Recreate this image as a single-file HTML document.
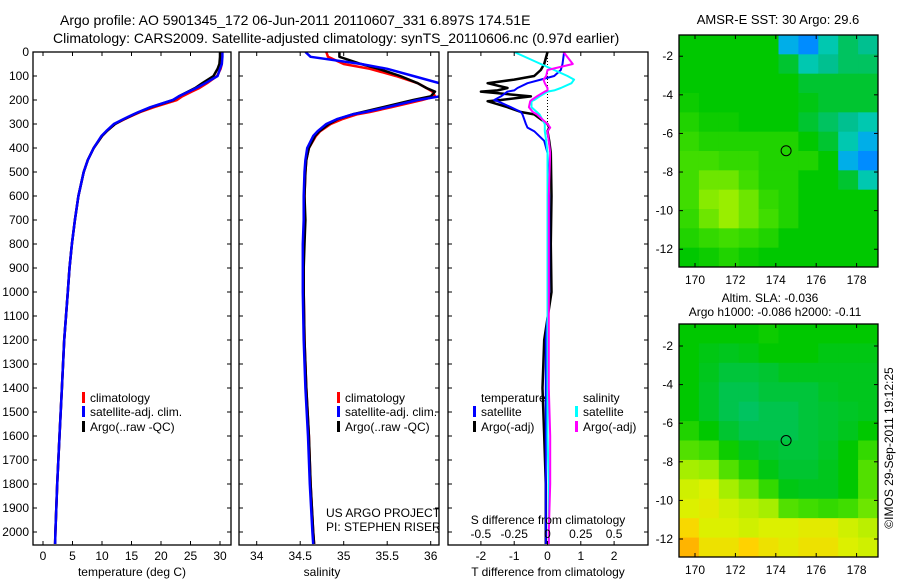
<!DOCTYPE html>
<html><head><meta charset="utf-8"><style>
html,body{margin:0;padding:0;background:#fff}
svg{display:block;font-family:"Liberation Sans",sans-serif;font-size:12px}
</style></head><body>
<svg id="fig" width="900" height="580" viewBox="0 0 900 580">
<defs>
<clipPath id="c1"><rect x="33" y="52" width="198" height="493"/></clipPath>
<clipPath id="c2"><rect x="239" y="52" width="200" height="493"/></clipPath>
<clipPath id="c3"><rect x="448" y="52" width="200" height="493"/></clipPath>
</defs>
<text x="60" y="25" font-size="14">Argo profile: AO 5901345_172 06-Jun-2011 20110607_331 6.897S 174.51E</text>
<text x="53" y="43" font-size="14">Climatology: CARS2009. Satellite-adjusted climatology: synTS_20110606.nc (0.97d earlier)</text>
<g id="g1"></g>
<g id="g2"></g>
<g id="g3"></g>
<g id="m1"></g>
<g id="m2"></g>
<text x="778" y="24" font-size="13" text-anchor="middle">AMSR-E SST: 30  Argo: 29.6</text>
<text x="770" y="302" text-anchor="middle">Altim. SLA: -0.036</text>
<text x="775" y="316" text-anchor="middle">Argo h1000: -0.086 h2000: -0.11</text>
<text transform="translate(893,448) rotate(-90)" text-anchor="middle">©IMOS 29-Sep-2011 19:12:25</text>
</svg>
<script>
// ---------- data ----------
const depths = [0,20,50,70,100,130,150,165,185,200,230,250,260,280,300,330,350,400,450,500,600,700,800,900,1000,1200,1400,1600,1800,2000,2050];
const tempClim = [30.3,30.3,30.3,30.1,29.5,27.8,26.5,25.2,23.6,22.7,18.8,16.5,15.6,13.8,12.2,10.8,10.0,8.6,7.6,6.9,6.0,5.4,4.9,4.5,4.2,3.6,3.2,2.8,2.4,2.1,2.05];
const tempSat  = [30.4,30.4,30.3,30.0,29.6,27.5,26.0,24.7,23.0,22.0,18.2,16.2,15.3,13.6,12.0,10.7,9.9,8.6,7.6,6.9,6.0,5.4,4.9,4.5,4.2,3.6,3.2,2.8,2.4,2.1,2.05];
const tempArgo = [30.0,30.0,29.9,29.6,28.9,27.0,25.8,24.6,23.0,22.1,18.3,16.3,15.4,13.7,12.2,10.8,10.0,8.6,7.6,6.9,6.0,5.4,4.9,4.5,4.2,3.6,3.2,2.8,2.4,2.1,2.05];
const salClim = [34.80,34.82,35.0,35.3,35.6,35.85,35.95,36.02,36.05,35.9,35.55,35.3,35.15,34.98,34.85,34.73,34.68,34.6,34.57,34.56,34.55,34.55,34.54,34.54,34.54,34.55,34.57,34.6,34.62,34.65,34.66];
const salSat  = [34.56,34.62,35.2,35.5,35.8,36.1,36.2,36.2,36.1,35.85,35.5,35.25,35.1,34.92,34.8,34.7,34.65,34.58,34.56,34.55,34.54,34.54,34.53,34.53,34.53,34.54,34.56,34.59,34.61,34.64,34.65];
const salArgo = [34.95,34.95,35.2,35.4,35.65,35.85,35.95,36.05,36.0,35.8,35.45,35.22,35.1,34.93,34.83,34.72,34.67,34.6,34.57,34.56,34.55,34.56,34.55,34.54,34.54,34.55,34.57,34.6,34.62,34.65,34.66];
const diffDepths = [0,50,75,100,115,130,150,160,165,185,200,205,230,250,260,280,300,315,330,370,420,600,800,1000,1200,1400,1600,1800,2000,2050];
const dTArgo = [0,-0.1,-0.2,-0.4,-1.0,-1.8,-1.2,-1.5,-2.0,-0.5,-1.4,-1.8,-1.2,-0.8,-0.4,-0.2,0,0.05,0,0.05,0.1,0.12,0.1,0.12,-0.1,-0.15,-0.1,-0.05,-0.05,-0.05];
const dTSat  = [0.5,0.45,0.4,0.2,-0.2,-0.6,-0.9,-1.0,-1.2,-1.4,-1.6,-1.5,-1.1,-0.8,-0.75,-0.7,-0.65,-0.6,-0.4,-0.1,0,0.05,0.05,0.05,-0.05,-0.05,-0.05,-0.05,-0.05,-0.05];
const dSSat  = [-0.25,-0.05,0.05,0.15,0.2,0.18,0.1,0.05,0.0,-0.06,-0.1,-0.12,-0.12,-0.08,-0.06,-0.04,-0.02,-0.02,-0.02,-0.01,0,0,0,0,0,0,0,0.01,0.01,0.01];
const dSArgo = [0.12,0.19,0,-0.01,-0.03,-0.02,0.0,0.0,-0.02,-0.08,-0.12,-0.13,-0.14,-0.11,-0.08,-0.04,0,0.02,0.0,0.01,0.02,0.01,0.01,0.01,0.01,0.01,0.02,0.02,0.01,0.01];
const depthTicks = [0,100,200,300,400,500,600,700,800,900,1000,1100,1200,1300,1400,1500,1600,1700,1800,1900,2000];
const tempTicks = [0,5,10,15,20,25,30];
const salTicks = ["34","34.5","35","35.5","36"];
const tdTicks = [-2,-1,0,1,2];
const sdTicks = ["-0.5","-0.25","0","0.25","0.5"];
const lonTicks = [170,172,174,176,178];
const latTicks = [-2,-4,-6,-8,-10,-12];
const sstGrid = [
[.5,.5,.5,.5,.5,.2,.15,.3,.4,.35],
[.5,.5,.5,.5,.5,.45,.3,.35,.4,.4],
[.5,.5,.5,.5,.5,.5,.45,.45,.45,.45],
[.52,.5,.5,.5,.5,.5,.48,.45,.45,.45],
[.55,.52,.52,.5,.5,.5,.45,.4,.35,.3],
[.58,.55,.55,.55,.55,.55,.5,.45,.3,.2],
[.6,.6,.58,.58,.55,.55,.55,.5,.2,.15],
[.6,.65,.65,.6,.55,.55,.5,.5,.45,.3],
[.6,.68,.7,.65,.58,.55,.5,.5,.5,.5],
[.58,.65,.7,.65,.6,.55,.5,.5,.5,.5],
[.55,.58,.6,.58,.55,.5,.5,.5,.5,.5],
[.5,.52,.55,.52,.5,.5,.5,.5,.5,.5]];
const slaGrid = [
[.5,.5,.5,.5,.52,.5,.5,.5,.5,.5],
[.5,.48,.47,.48,.5,.5,.5,.48,.48,.48],
[.5,.47,.44,.44,.45,.47,.47,.47,.47,.47],
[.5,.46,.42,.42,.44,.44,.44,.46,.47,.47],
[.5,.46,.42,.4,.42,.42,.44,.45,.46,.47],
[.55,.5,.45,.42,.42,.42,.44,.45,.47,.5],
[.62,.6,.52,.47,.45,.44,.44,.46,.5,.58],
[.72,.7,.62,.55,.48,.45,.45,.47,.5,.62],
[.78,.8,.72,.66,.58,.48,.47,.47,.5,.62],
[.8,.82,.78,.75,.72,.62,.6,.58,.6,.65],
[.88,.8,.8,.78,.8,.8,.82,.82,.78,.75],
[.95,.85,.85,.9,.85,.82,.85,.85,.8,.78]];
const argoLon = [174.51];
const argoLat = [-6.897];

// ---------- helpers ----------
const NS = "http://www.w3.org/2000/svg";
function mk(tag, attrs, parent){const e=document.createElementNS(NS,tag);for(const k in attrs)e.setAttribute(k,attrs[k]);parent.appendChild(e);return e;}
const yD = d => 52 + 0.24*d;
const xT = t => 43 + 5.9*t;
const xS = s => 256.7 + 87*(s-34);
const xD = t => 547.5 + 33.3*t;

function frame(g, x0, x1, y0, y1, name){
  const r = mk("rect",{x:x0,y:y0,width:x1-x0,height:y1-y0,fill:"none",stroke:"#000","stroke-width":1.3},g);
  
  
}
function yTicks(g, x0, x1, labels){
  depthTicks.forEach(d=>{
    const y=yD(d);
    mk("line",{x1:x0,x2:x0+4,y1:y,y2:y,stroke:"#000"},g);
    mk("line",{x1:x1-4,x2:x1,y1:y,y2:y,stroke:"#000"},g);
    if(labels){const t=mk("text",{x:x0-4,y:y+4,"text-anchor":"end"},g);t.textContent=d;
      
      }
  });
}
function xTicks(g, xs, labels, ybot, ytop){
  xs.forEach((x,i)=>{
    mk("line",{x1:x,x2:x,y1:ytop,y2:ytop+4,stroke:"#000"},g);
    mk("line",{x1:x,x2:x,y1:ybot-4,y2:ybot,stroke:"#000"},g);
    if(labels){const t=mk("text",{x:x,y:ybot+15,"text-anchor":"middle"},g);t.textContent=labels[i];
      
      }
  });
}
function line(g, vals, fx, ds, color, w, name, clip){
  const pts = vals.map((v,i)=>fx(v).toFixed(1)+","+yD(ds[i]).toFixed(1)).join(" ");
  const p = mk("polyline",{points:pts,fill:"none",stroke:color,"stroke-width":w,"clip-path":"url(#"+clip+")","stroke-linejoin":"round"},g);
  
  
}
function legendItem(g, x, y, color, label){
  if(color) mk("rect",{x:x,y:y-10,width:3,height:11,fill:color},g);
  const t=mk("text",{x:x+8,y:y},g); t.textContent=label;
  
  
}
function label(g,x,y,txt,name,anchor){
  const t=mk("text",{x:x,y:y,"text-anchor":anchor||"middle"},g);t.textContent=txt;
  
  
}

// ---------- panel 1 ----------
const g1=document.getElementById("g1");
line(g1,tempClim,xT,depths,"#f00",2.5,"temp-climatology-line","c1");
line(g1,tempArgo,xT,depths,"#000",2.5,"temp-argo-line","c1");
line(g1,tempSat,xT,depths,"#00f",2.5,"temp-satellite-line","c1");
frame(g1,33,231,52,545,"temp-axes");
yTicks(g1,33,231,true);
xTicks(g1,tempTicks.map(xT),tempTicks,545,52);
label(g1,132,576,"temperature (deg C)","temp-x-axis-title");
legendItem(g1,82,402,"#f00","climatology");
legendItem(g1,82,416,"#00f","satellite-adj. clim.");
legendItem(g1,82,431,"#000","Argo(..raw -QC)");

// ---------- panel 2 ----------
const g2=document.getElementById("g2");
line(g2,salClim,xS,depths,"#f00",2.5,"sal-climatology-line","c2");
line(g2,salArgo,xS,depths,"#000",2.5,"sal-argo-line","c2");
line(g2,salSat,xS,depths,"#00f",2.5,"sal-satellite-line","c2");
frame(g2,239,439,52,545,"sal-axes");
yTicks(g2,239,439,false);
xTicks(g2,salTicks.map(s=>xS(parseFloat(s))),salTicks,545,52);
label(g2,322,576,"salinity","sal-x-axis-title");
legendItem(g2,337,402,"#f00","climatology");
legendItem(g2,337,416,"#00f","satellite-adj. clim.");
legendItem(g2,337,431,"#000","Argo(..raw -QC)");
const gtxt=mk("g",{"clip-path":"url(#c2)"},g2);
label(gtxt,326,517,"US ARGO PROJECT","project-credit","start");
label(gtxt,326,531,"PI: STEPHEN RISER","pi-credit","start");

// ---------- panel 3 ----------
const g3=document.getElementById("g3");
mk("line",{x1:xD(0),x2:xD(0),y1:52,y2:125,stroke:"#000","stroke-dasharray":"1,2"},g3);
line(g3,dTArgo,xD,diffDepths,"#000",2.5,"tdiff-argo-line","c3");
line(g3,dTSat,xD,diffDepths,"#00f",2,"tdiff-satellite-line","c3");
line(g3,dSSat,s=>xD(4*s),diffDepths,"#0ff",2,"sdiff-satellite-line","c3");
line(g3,dSArgo,s=>xD(4*s),diffDepths,"#f0f",2,"sdiff-argo-line","c3");
frame(g3,448,648,52,545,"diff-axes");
yTicks(g3,448,648,false);
xTicks(g3,tdTicks.map(xD),tdTicks,545,52);
sdTicks.forEach(s=>label(g3,xD(4*parseFloat(s)),538,s,"s-diff-tick-label"));
label(g3,548,524,"S difference from climatology","s-diff-axis-title");
label(g3,548,576,"T difference from climatology","t-diff-axis-title");
legendItem(g3,473,402,null,"temperature");
legendItem(g3,575,402,null,"salinity");
legendItem(g3,473,416,"#00f","satellite");
legendItem(g3,473,431,"#000","Argo(-adj)");
legendItem(g3,575,416,"#0ff","satellite");
legendItem(g3,575,431,"#f0f","Argo(-adj)");

// ---------- maps ----------
const stops=[[0,[0,40,190]],[0.15,[0,140,255]],[0.25,[0,208,208]],[0.35,[0,192,144]],[0.5,[0,200,0]],[0.6,[64,221,0]],[0.7,[153,238,0]],[0.8,[220,240,0]],[0.9,[255,210,0]],[1,[255,150,0]]];
function cmap(v){
  for(let i=1;i<stops.length;i++){if(v<=stops[i][0]){const a=stops[i-1],b=stops[i],f=(v-a[0])/(b[0]-a[0]);
    return "rgb("+a[1].map((c,k)=>Math.round(c+f*(b[1][k]-c))).join(",")+")";}}
  return "rgb(255,150,0)";
}
function map(g, grid, y0, y1, latTop, latPerPx, name){
  const x0=679,x1=878;
  const lonX = lon => 695 + 20.2*(lon-170);
  const latY = lat => y0 + (latTop-lat)*latPerPx;
  const rows=grid.length, cols=grid[0].length;
  const cw=(x1-x0)/cols, ch=(y1-y0)/rows;
  grid.forEach((row,r)=>row.forEach((v,c)=>{
    const cell=mk("rect",{x:x0+c*cw,y:y0+r*ch,width:cw+0.5,height:ch+0.5,fill:cmap(v)},g);
    
    
  }));
  frame(g,x0,x1,y0,y1,name+"-frame");
  lonTicks.forEach(l=>{const x=lonX(l);
    mk("line",{x1:x,x2:x,y1:y0,y2:y0+4,stroke:"#000"},g);
    mk("line",{x1:x,x2:x,y1:y1-4,y2:y1,stroke:"#000"},g);
    label(g,x,y1+17,String(l),"lon-tick-label");});
  latTicks.forEach(l=>{const y=latY(l);
    mk("line",{x1:x0,x2:x0+4,y1:y,y2:y,stroke:"#000"},g);
    mk("line",{x1:x1-4,x2:x1,y1:y,y2:y,stroke:"#000"},g);
    label(g,x0-6,y+4,String(l),"lat-tick-label","end");});
  const c=mk("circle",{cx:lonX(argoLon[0]),cy:latY(argoLat[0]),r:5,fill:"none",stroke:"#000","stroke-width":1},g);
  
  
}
map(document.getElementById("m1"),sstGrid,35,267,-0.9,19.3,"sst-map");
map(document.getElementById("m2"),slaGrid,324,557,-0.86,19.3,"sla-map");
</script>
</body></html>
